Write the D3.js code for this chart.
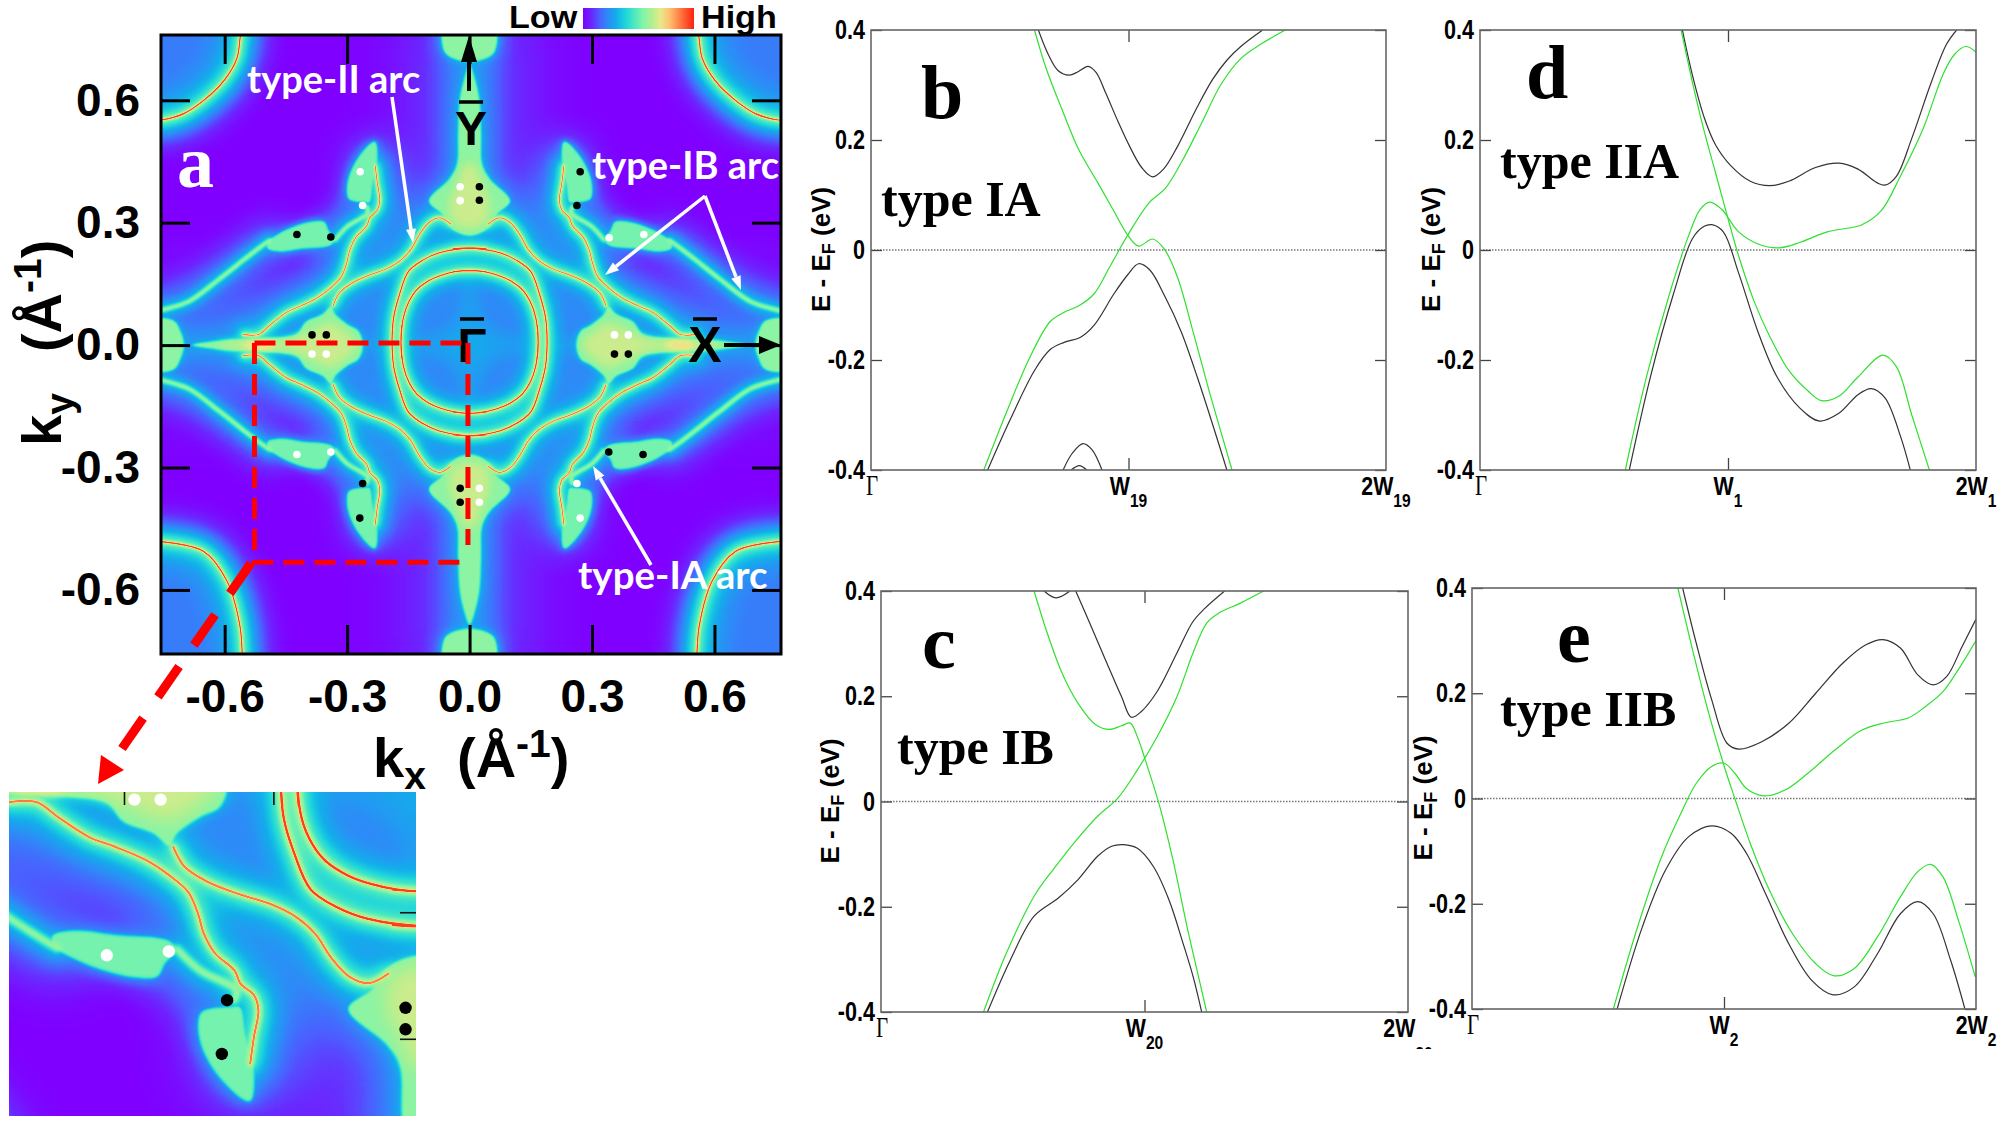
<!DOCTYPE html>
<html lang="en">
<head>
<meta charset="UTF-8">
<title>Weyl arcs and band structures</title>
<script src="https://cdn.jsdelivr.net/npm/d3@7"></script>
<style>
    body { margin: 0; background: #fff; }
    svg { display: block; }
    text { font-family: "Liberation Sans", Arial, sans-serif; font-weight: bold; }
    .serif { font-family: "Liberation Serif", serif; }
</style>
</head>
<body>
<div id="chart"></div>
<script>
// ---- panel a values, momentum in 1/angstrom ----
const kTicks = [-0.6, -0.3, 0.0, 0.3, 0.6]
const insetTicks = [-0.4, -0.2]

// surface arcs, one quadrant (|kx|, |ky|), mirrored when drawn
const ringOuter = [[.188,-.04],[.19,0],[.186,.06],[.172,.115],[.15,.172],[.115,.2],[.075,.218],[0,.23],[-.04,.228]]
const ringInner = [[.166,-.04],[.168,0],[.162,.06],[.148,.1],[.13,.127],[.1,.15],[.07,.163],[.035,.172],[0,.175],[-.04,.172]]
const arcIB = [[.554,.026],[.517,.026],[.489,.049],[.447,.081],[.411,.097],[.370,.118],[.339,.142],[.314,.168],[.301,.202],[.293,.234],[.278,.265],[.252,.292],[.244,.313],[.226,.331],[.220,.355],[.226,.397],[.231,.439]]
const arcII = [[.334,.097],[.319,.128],[.288,.152],[.247,.171],[.206,.186],[.170,.207],[.144,.234],[.123,.271],[.098,.302],[.072,.312],[.046,.297]]
const arcIA = [[.78,.08],[.754,.086],[.688,.107],[.613,.162],[.551,.211],[.525,.231],[.489,.257]]
const arcIAinner = [[.329,.258],[.298,.292],[.262,.313],[.249,.323],[.252,.339]]
const cornerTop = [[.555,.78],[.561,.76],[.570,.703],[.601,.649],[.651,.600],[.701,.567],[.754,.552],[.79,.55]]
const cornerBottom = [[.79,.48],[.754,.482],[.651,.506],[.595,.577],[.563,.686],[.557,.757],[.556,.79]]

const lobeH = [[.496,.236],[.463,.229],[.411,.236],[.339,.245],[.329,.260],[.345,.281],[.355,.302],[.386,.303],[.427,.292],[.468,.273],[.496,.252]]
const lobeV = [[.257,.349],[.296,.357],[.301,.376],[.296,.413],[.273,.460],[.236,.499],[.229,.497],[.226,.444],[.237,.392],[.244,.349]]
const lobeY = [[0,.685],[.012,.655],[.024,.60],[.028,.52],[.031,.441],[.049,.408],[.10,.353],[.068,.321],[.049,.288],[0,.268]]
const lobeYcore = [[0,.285],[.04,.30],[.05,.345],[.03,.40],[.015,.44],[0,.45]]
const capY = [[0,.695],[.045,.705],[.062,.72],[.062,.79],[0,.79]]
const lobeX = [[.262,0],[.272,.034],[.298,.049],[.329,.076],[.339,.097],[.360,.076],[.401,.057],[.422,.028],[.47,.018],[.60,.012],[.68,0]]
const lobeXcore = [[.275,0],[.30,.03],[.34,.055],[.40,.03],[.45,.012],[.55,.012],[.62,0]]
const capX = [[.70,0],[.707,.03],[.725,.06],[.79,.06],[.79,0]]
const hotX = [[.49,0],[.54,0]]
const innerBlue = [[0,.31],[.07,.31],[.12,.27],[.17,.21],[.25,.17],[.32,.12],[.4,.1],[.5,.03],[.5,0],[0,0]]
const axisX = [[0,0],[.8,0]]
const axisY = [[0,0],[0,.8]]
const discTop = cornerTop.concat([[.8,.8]])
const discBottom = cornerBottom.concat([[.8,.8]])

const blackPoints = [[-.423,.271],[-.340,.265],[.271,.425],[.263,.342],[.024,.388],[.024,.355],[-.386,.025],[-.351,.025],[.355,-.022],[.389,-.022],[-.023,-.351],[-.023,-.385],[.341,-.262],[.425,-.268],[-.262,-.339],[-.269,-.424]]
const whitePoints = [[-.268,.425],[-.262,.342],[-.023,.388],[-.023,.354],[.342,.263],[.427,.271],[.355,.025],[.389,.025],[-.386,-.022],[-.351,-.022],[.024,-.351],[.024,-.385],[-.423,-.268],[-.340,-.262],[.263,-.339],[.271,-.424]]

// intensity colour scale of the map
const stopValues = [0, .08, .15, .22, .30, .38, .46, .54, .62, .70, .78, .88, 1]
const stopColors = ["#7f00ff","#6a28ff","#4a60ff","#2f88f8","#12aeea","#1cd4dc","#4ae8c0","#80f5a8","#b0f090","#e8e888","#ffc070","#ff7840","#ff2010"]

// ---- band panels, position along the cut in units of W, energy in eV ----
const energyTicks = [-0.4, -0.2, 0, 0.2, 0.4]

const bBlackUp = [[.650,.400],[.689,.355],[.727,.326],[.769,.318],[.804,.324],[.843,.334],[.874,.323],[.912,.285],[.958,.235],[1.005,.188],[1.051,.150],[1.094,.133],[1.136,.147],[1.190,.188],[1.267,.260],[1.328,.311],[1.382,.345],[1.436,.370],[1.521,.400]]
const bGreenA = [[.635,.400],[.681,.329],[.743,.254],[.804,.185],[.881,.122],[.943,.071],[.997,.027],[1.039,.007],[1.094,.020],[1.140,.001],[1.190,-.049],[1.251,-.149],[1.313,-.256],[1.402,-.400]]
const bGreenB = [[.438,-.400],[.527,-.294],[.619,-.193],[.696,-.130],[.743,-.115],[.812,-.100],[.866,-.080],[.928,-.030],[.997,.027],[1.082,.087],[1.143,.112],[1.205,.159],[1.282,.229],[1.359,.301],[1.436,.348],[1.513,.374],[1.609,.400]]
const bBlackLow = [[.453,-.400],[.542,-.307],[.635,-.219],[.696,-.181],[.750,-.168],[.812,-.159],[.866,-.137],[.943,-.080],[.997,-.045],[1.039,-.025],[1.082,-.036],[1.143,-.086],[1.205,-.149],[1.267,-.231],[1.328,-.319],[1.382,-.400]]
const bDomeA = [[.746,-.400],[.781,-.370],[.823,-.352],[.858,-.363],[.897,-.400]]
const bDomeB = [[.777,-.400],[.809,-.392],[.838,-.400]]

const cBlackTop = [[.619,.400],[.664,.387],[.717,.400]]
const cBlackUp = [[.739,.400],[.792,.339],[.852,.269],[.913,.199],[.950,.160],[.988,.171],[1.048,.209],[1.123,.282],[1.184,.342],[1.229,.367],[1.304,.400]]
const cGreenA = [[.581,.400],[.627,.326],[.687,.244],[.747,.187],[.815,.146],[.867,.137],[.913,.144],[.946,.149],[.973,.123],[1.003,.079],[1.056,-.006],[1.108,-.111],[1.161,-.237],[1.199,-.320],[1.236,-.400]]
const cGreenB = [[.389,-.400],[.476,-.288],[.581,-.180],[.657,-.127],[.747,-.070],[.822,-.028],[.898,.006],[.973,.060],[1.048,.123],[1.123,.199],[1.184,.282],[1.236,.339],[1.282,.358],[1.364,.377],[1.452,.400]]
const cBlackLow = [[.404,-.400],[.491,-.301],[.581,-.218],[.672,-.184],[.747,-.149],[.822,-.104],[.875,-.085],[.920,-.082],[.973,-.089],[1.033,-.123],[1.093,-.187],[1.146,-.269],[1.184,-.332],[1.217,-.400]]

const dBlackUp = [[.816,.400],[.857,.317],[.904,.241],[.950,.191],[1.012,.153],[1.090,.125],[1.167,.117],[1.245,.125],[1.353,.150],[1.447,.158],[1.524,.147],[1.602,.122],[1.633,.118],[1.679,.134],[1.741,.203],[1.819,.304],[1.881,.374],[1.922,.400]]
const dGreenA = [[.811,.400],[.857,.304],[.904,.216],[.950,.140],[.997,.062],[1.043,-.011],[1.105,-.093],[1.167,-.156],[1.245,-.219],[1.322,-.256],[1.377,-.274],[1.447,-.266],[1.524,-.231],[1.625,-.191],[1.679,-.212],[1.741,-.300],[1.812,-.400]]
const dGreenB = [[.586,-.400],[.671,-.231],[.764,-.080],[.842,.027],[.888,.074],[.927,.087],[.974,.074],[1.043,.033],[1.121,.011],[1.206,.004],[1.291,.014],[1.400,.033],[1.540,.046],[1.617,.071],[1.695,.134],[1.788,.222],[1.865,.317],[1.912,.355],[1.958,.370],[2.0,.360]]
const dBlackLow = [[.602,-.400],[.687,-.231],[.780,-.080],[.857,.021],[.904,.043],[.935,.046],[.981,.033],[1.043,-.042],[1.121,-.149],[1.198,-.231],[1.291,-.288],[1.369,-.311],[1.447,-.297],[1.524,-.263],[1.578,-.252],[1.633,-.269],[1.695,-.338],[1.735,-.400]]

const eBlackUp = [[.836,.400],[.890,.295],[.951,.188],[1.012,.105],[1.058,.094],[1.150,.108],[1.257,.143],[1.364,.200],[1.471,.257],[1.563,.292],[1.631,.302],[1.700,.286],[1.769,.235],[1.830,.216],[1.884,.232],[1.945,.289],[2.0,.341]]
const eGreenA = [[.817,.400],[.875,.283],[.936,.168],[.997,.067],[1.043,0],[1.104,-.085],[1.180,-.174],[1.272,-.257],[1.364,-.314],[1.437,-.337],[1.517,-.323],[1.609,-.263],[1.700,-.187],[1.769,-.139],[1.820,-.125],[1.869,-.149],[1.930,-.231],[1.997,-.339]]
const eGreenB = [[.561,-.400],[.661,-.238],[.752,-.111],[.829,-.028],[.890,.029],[.951,.061],[1.000,.067],[1.043,.048],[1.089,.019],[1.157,.005],[1.242,.016],[1.333,.048],[1.440,.092],[1.547,.130],[1.639,.144],[1.731,.153],[1.800,.175],[1.869,.203],[1.930,.245],[2.0,.300]]
const eBlackLow = [[.576,-.400],[.676,-.244],[.768,-.136],[.859,-.073],[.951,-.052],[1.028,-.066],[1.089,-.104],[1.165,-.181],[1.257,-.276],[1.349,-.346],[1.433,-.373],[1.517,-.358],[1.609,-.295],[1.700,-.219],[1.769,-.196],[1.830,-.219],[1.899,-.307],[1.956,-.400]]

const svg = d3.select("#chart").append("svg")
    .attr("width", 2001)
    .attr("height", 1126)
svg.append("rect").attr("width", 2001).attr("height", 1126).attr("fill", "#fff")
const defs = svg.append("defs")

// makes tick labels and titles a bit narrower, the figure uses a condensed bold
function squeeze(sel, f) {
    sel.each(function () {
        const w = this.getComputedTextLength()
        this.setAttribute("textLength", w * f)
        this.setAttribute("lengthAdjust", "spacingAndGlyphs")
    })
}

// ---- the map: a grey intensity picture first, coloured through the scale at the end ----
const colorOf = d3.scaleLinear().domain(stopValues).range(stopColors).clamp(true)

// closes a half outline over the axis it starts and ends on
const overY = pts => pts.concat(pts.slice(1, -1).reverse().map(d => [-d[0], d[1]]))
const overX = pts => pts.concat(pts.slice(1, -1).reverse().map(d => [d[0], -d[1]]))

function renderField(w, h, kx, ky, s) {
    const pad = Math.round(80 * s)
    const cv = document.createElement("canvas")
    cv.width = w + 2 * pad
    cv.height = h + 2 * pad
    const ctx = cv.getContext("2d", {willReadFrequently: true})
    const x = kx.copy().range(kx.range().map(d => d + pad))
    const y = ky.copy().range(ky.range().map(d => d + pad))
    const grey = v => { const c = Math.round(v * 255); return `rgb(${c},${c},${c})` }
    ctx.fillStyle = "#000"
    ctx.fillRect(0, 0, cv.width, cv.height)
    ctx.globalCompositeOperation = "lighten"

    const mirrors = [[1, 1], [-1, 1], [1, -1], [-1, -1]]
    function trace(list, flips, shift, curve) {
        ctx.beginPath()
        for (const [sx, sy] of flips) {
            for (const pts of list) {
                d3.line()
                    .x(d => x(sx * d[0]))
                    .y(d => y(sy * d[1] + shift))
                    .curve(curve)
                    .context(ctx)(pts)
            }
        }
    }
    function stroke(list, level, width, blur, flips = mirrors, shift = 0) {
        trace(list, flips, shift, d3.curveCatmullRom.alpha(0.5))
        ctx.filter = `blur(${blur * s}px)`
        ctx.strokeStyle = grey(level)
        ctx.lineWidth = width * s
        ctx.lineCap = "round"
        ctx.stroke()
    }
    function fill(list, level, blur, flips = mirrors) {
        trace(list, flips, 0, d3.curveCatmullRomClosed.alpha(0.5))
        ctx.filter = `blur(${blur * s}px)`
        ctx.fillStyle = grey(level)
        ctx.fill()
    }

    const topOnly = [[1, 1], [-1, 1]]
    const bottomOnly = [[1, -1], [-1, -1]]
    const rightLeft = [[1, 1], [-1, 1]]
    const upDown = [[1, 1], [1, -1]]
    const yShapes = [overY(lobeY), overY(capY)]
    const xShapes = [overX(lobeX), overX(capX)]

    // background glow
    stroke([axisX, axisY], .2, 80, 40)
    stroke([axisX, axisY], .3, 30, 15)
    fill([innerBlue], .22, 14)
    fill([discTop], .2, 8, topOnly)
    fill([discBottom], .2, 8, bottomOnly)

    // lobes around the Weyl points; shapes closed over an axis are flipped only across the other one
    fill([lobeH, lobeV], .24, 10)
    fill([lobeH, lobeV], .34, 4)
    fill(yShapes, .26, 12, upDown)
    fill(xShapes, .26, 12, rightLeft)
    fill(yShapes, .36, 5, upDown)
    fill(xShapes, .36, 5, rightLeft)
    fill([lobeH, lobeV], .52, .8)
    fill(yShapes, .56, .8, upDown)
    fill(xShapes, .56, .8, rightLeft)
    fill([overY(lobeYcore)], .66, 5, upDown)
    fill([overX(lobeXcore)], .66, 5, rightLeft)
    stroke([hotX], .76, 8, 4)

    // arcs, wide faint glow down to the thin bright line
    const medium = [arcIB, arcII]
    const weak = [arcIA, arcIAinner]
    stroke(medium, .24, 50, 18)
    stroke(medium, .36, 20, 7)
    stroke(medium, .52, 8, 3.5)
    stroke(medium, .66, 3.5, 1.2)
    stroke(medium, .88, 1.3, .4)

    stroke(weak, .22, 36, 14)
    stroke(weak, .36, 12, 5)
    stroke(weak, .6, 4, 1.5)

    const rings = [ringOuter, ringInner]
    stroke(rings, .24, 44, 16, mirrors, .008)
    stroke(rings, .38, 20, 7, mirrors, .008)
    stroke(rings, .54, 8, 3.5, mirrors, .008)
    stroke(rings, .68, 3.5, 1.2, mirrors, .008)
    stroke(rings, .96, 1.4, .4, mirrors, .008)

    for (const [arc, flips] of [[cornerTop, topOnly], [cornerBottom, bottomOnly]]) {
        stroke([arc], .32, 40, 14, flips)
        stroke([arc], .42, 18, 7, flips)
        stroke([arc], .54, 8, 3.5, flips)
        stroke([arc], .68, 3.5, 1.2, flips)
        stroke([arc], .96, 1.4, .4, flips)
    }
    ctx.filter = "none"
    ctx.globalCompositeOperation = "source-over"

    // grey to colour
    const lut = d3.range(256).map(i => d3.rgb(colorOf(i / 255)))
    const img = ctx.getImageData(pad, pad, w, h)
    for (let i = 0; i < img.data.length; i += 4) {
        const c = lut[img.data[i]]
        img.data[i] = c.r
        img.data[i + 1] = c.g
        img.data[i + 2] = c.b
        img.data[i + 3] = 255
    }
    const out = document.createElement("canvas")
    out.width = w
    out.height = h
    out.getContext("2d").putImageData(img, 0, 0)
    return out.toDataURL()
}

// ---- panel a ----
const aLeft = 161, aRight = 781, aTop = 35, aBottom = 654
const kxScale = d3.scaleLinear().domain([-0.756, 0.763]).range([0, aRight - aLeft])
const kyScale = d3.scaleLinear().domain([0.76, -0.757]).range([0, aBottom - aTop])

const a = svg.append("g").attr("transform", `translate(${aLeft},${aTop})`)
a.append("image")
    .attr("width", aRight - aLeft).attr("height", aBottom - aTop)
    .attr("href", renderField(aRight - aLeft, aBottom - aTop, kxScale, kyScale, 1))

a.append("g").attr("transform", `translate(0,${aBottom - aTop})`)
    .call(d3.axisBottom(kxScale).tickValues(kTicks).tickSizeInner(-29).tickSizeOuter(0).tickPadding(25).tickFormat(d => d.toFixed(1)))
    .call(styleAxisA)
a.append("g")
    .call(d3.axisTop(kxScale).tickValues(kTicks).tickSizeInner(-29).tickSizeOuter(0).tickFormat(""))
    .call(styleAxisA)
a.append("g")
    .call(d3.axisLeft(kyScale).tickValues(kTicks).tickSizeInner(-29).tickSizeOuter(0).tickPadding(21).tickFormat(d => d.toFixed(1)))
    .call(styleAxisA)
a.append("g").attr("transform", `translate(${aRight - aLeft},0)`)
    .call(d3.axisRight(kyScale).tickValues(kTicks).tickSizeInner(-29).tickSizeOuter(0).tickFormat(""))
    .call(styleAxisA)
a.append("rect")
    .attr("width", aRight - aLeft).attr("height", aBottom - aTop)
    .attr("fill", "none").attr("stroke", "#000").attr("stroke-width", 3)

function styleAxisA(g) {
    g.select(".domain").remove()
    g.selectAll("line").attr("stroke", "#000").attr("stroke-width", 3)
    g.selectAll("text").attr("font-family", null).style("font-size", "46px").attr("fill", "#000")
}

a.selectAll("circle.bk").data(blackPoints).enter().append("circle")
    .attr("cx", d => kxScale(d[0])).attr("cy", d => kyScale(d[1])).attr("r", 3.8).attr("fill", "#000")
a.selectAll("circle.wh").data(whitePoints).enter().append("circle")
    .attr("cx", d => kxScale(d[0])).attr("cy", d => kyScale(d[1])).attr("r", 3.8).attr("fill", "#fff")

// legend
const grad = defs.append("linearGradient").attr("id", "legendGrad")
stopValues.forEach((v, i) => grad.append("stop").attr("offset", v).attr("stop-color", stopColors[i]))
svg.append("rect").attr("x", 583).attr("y", 8).attr("width", 111).attr("height", 21).attr("fill", "url(#legendGrad)")
svg.append("text").attr("x", 509).attr("y", 28).style("font-size", "31px").text("Low").call(squeeze, 1.1)
svg.append("text").attr("x", 701).attr("y", 28).style("font-size", "31px").text("High").call(squeeze, 1.1)

function label(x, y, txt, size, color = "#000", cls = null) {
    return svg.append("text").attr("x", x).attr("y", y).attr("fill", color).attr("class", cls)
        .style("font-size", size + "px").text(txt)
}

// arrows with a narrow head
function arrow(x1, y1, x2, y2, color, w, headL, headW) {
    const dx = x2 - x1, dy = y2 - y1, len = Math.hypot(dx, dy)
    const ux = dx / len, uy = dy / len
    const bx = x2 - ux * headL, by = y2 - uy * headL
    svg.append("line").attr("x1", x1).attr("y1", y1).attr("x2", bx).attr("y2", by)
        .attr("stroke", color).attr("stroke-width", w)
    svg.append("polygon").attr("fill", color)
        .attr("points", [[x2, y2], [bx - uy * headW, by + ux * headW], [bx + uy * headW, by - ux * headW]].join(" "))
}
arrow(392, 97, 413, 243, "#fff", 3.5, 14, 5)
arrow(705, 196, 605, 275, "#fff", 3.5, 14, 5)
arrow(705, 196, 741, 290, "#fff", 3.5, 14, 5)
arrow(651, 565, 593, 466, "#fff", 3.5, 14, 5)
arrow(469, 91, 469, 36, "#000", 4, 26, 8)
arrow(724, 345, 781, 345, "#000", 4, 22, 9)

const arcFont = "Lato, 'Open Sans', sans-serif"
label(247, 93, "type-II arc", 38, "#fff").style("font-family", arcFont)
label(592, 179, "type-IB arc", 38, "#fff").style("font-family", arcFont)
label(578, 589, "type-IA arc", 38.5, "#fff").style("font-family", arcFont)
label(177, 187, "a", 74, "#fff", "serif")

// high symmetry points
label(471, 145, "Y", 48).attr("text-anchor", "middle")
label(705, 362, "X", 50).attr("text-anchor", "middle")
label(472, 362, "\u0393", 48).attr("text-anchor", "middle")
for (const [x, y] of [[471, 102], [472, 319], [705, 319]]) {
    svg.append("line").attr("x1", x - 12).attr("x2", x + 12).attr("y1", y).attr("y2", y)
        .attr("stroke", "#000").attr("stroke-width", 3.5)
}

// axis titles
const kxTitle = svg.append("text").attr("x", 373).attr("y", 777).style("font-size", "56px")
kxTitle.append("tspan").text("k")
kxTitle.append("tspan").attr("dy", 12).style("font-size", "39px").text("x")
kxTitle.append("tspan").attr("dy", -12).text("\u00a0 (\u00c5")
kxTitle.append("tspan").attr("dy", -20).style("font-size", "39px").text("-1")
kxTitle.append("tspan").attr("dy", 20).text(")")
const kyTitle = svg.append("text").attr("transform", "translate(61,446) rotate(-90)").style("font-size", "56px")
kyTitle.append("tspan").text("k")
kyTitle.append("tspan").attr("dy", 12).style("font-size", "39px").text("y")
kyTitle.append("tspan").attr("dy", -12).attr("dx", 10).text("\u00a0 (\u00c5")
kyTitle.append("tspan").attr("dy", -20).style("font-size", "39px").text("-1")
kyTitle.append("tspan").attr("dy", 20).text(")")

// red dashed box, the part that is blown up below
const boxLine = pts => svg.append("path")
    .attr("d", d3.line().x(d => kxScale(d[0]) + aLeft).y(d => kyScale(d[1]) + aTop)(pts))
    .attr("stroke", "#f00").attr("stroke-width", 5).attr("stroke-dasharray", "21,10").attr("fill", "none")
boxLine([[-.527, .005], [-.004, .005]])
boxLine([[-.527, .005], [-.527, -.532], [-.018, -.532]])
boxLine([[-.004, .005], [-.004, -.49]])
svg.append("line").attr("x1", 251).attr("y1", 563).attr("x2", 114).attr("y2", 760)
    .attr("stroke", "#f00").attr("stroke-width", 9).attr("stroke-dasharray", "37,26")
svg.append("polygon").attr("fill", "#f00").attr("points", "98,784 101,755 124,770")

// ---- inset, the lower left quadrant ----
const inLeft = 9, inRight = 416, inTop = 792, inBottom = 1116
const inX = d3.scaleLinear().domain([-.554, -.009]).range([0, inRight - inLeft])
const inY = d3.scaleLinear().domain([-.01, -.522]).range([0, inBottom - inTop])
const inset = svg.append("g").attr("transform", `translate(${inLeft},${inTop})`)
inset.append("image")
    .attr("width", inRight - inLeft).attr("height", inBottom - inTop)
    .attr("href", renderField(inRight - inLeft, inBottom - inTop, inX, inY, 1.8))
inset.append("g")
    .call(d3.axisTop(inX).tickValues(insetTicks).tickSizeInner(-13).tickSizeOuter(0).tickFormat(""))
    .call(g => g.select(".domain").remove())
    .call(g => g.selectAll("line").attr("stroke", "#111").attr("stroke-width", 1.6))
inset.append("g").attr("transform", `translate(${inRight - inLeft},0)`)
    .call(d3.axisRight(inY).tickValues(insetTicks).tickSizeInner(-16).tickSizeOuter(0).tickFormat(""))
    .call(g => g.select(".domain").remove())
    .call(g => g.selectAll("line").attr("stroke", "#111").attr("stroke-width", 1.6))
const inRange = d => d[0] > -.554 && d[0] < -.009 && d[1] < -.01 && d[1] > -.522
inset.selectAll("circle.bk").data(blackPoints.filter(inRange)).enter().append("circle")
    .attr("cx", d => inX(d[0])).attr("cy", d => inY(d[1])).attr("r", 6.2).attr("fill", "#000")
inset.selectAll("circle.wh").data(whitePoints.filter(inRange)).enter().append("circle")
    .attr("cx", d => inX(d[0])).attr("cy", d => inY(d[1])).attr("r", 6.2).attr("fill", "#fff")

// ---- band structure panels ----
const panels = [
    {left: 871, right: 1386, top: 30, bottom: 470, sub: "19", black: [bBlackUp, bBlackLow, bDomeA, bDomeB], green: [bGreenA, bGreenB],
     letter: "b", lx: 921, ly: 118, type: "type IA", tx: 881, ty: 216, titleX: 823},
    {left: 881, right: 1408, top: 591, bottom: 1012, sub: "20", black: [cBlackTop, cBlackUp, cBlackLow], green: [cGreenA, cGreenB],
     letter: "c", lx: 922, ly: 668, type: "type IB", tx: 897, ty: 764, titleX: 832, cutLast: true},
    {left: 1480, right: 1976, top: 30, bottom: 470, sub: "1", black: [dBlackUp, dBlackLow], green: [dGreenA, dGreenB],
     letter: "d", lx: 1526, ly: 98, type: "type IIA", tx: 1500, ty: 178, titleX: 1433},
    {left: 1472, right: 1976, top: 588, bottom: 1009, sub: "2", black: [eBlackUp, eBlackLow], green: [eGreenA, eGreenB],
     letter: "e", lx: 1557, ly: 662, type: "type IIB", tx: 1500, ty: 726, titleX: 1425}
]

panels.forEach((p, idx) => {
    const w = p.right - p.left, h = p.bottom - p.top
    const x = d3.scaleLinear().domain([0, 2]).range([0, w])
    const y = d3.scaleLinear().domain([-0.4, 0.4]).range([h, 0])
    const g = svg.append("g").attr("transform", `translate(${p.left},${p.top})`)

    defs.append("clipPath").attr("id", "frame" + idx)
        .append("rect").attr("width", w).attr("height", h)

    g.append("line").attr("x2", w).attr("y1", y(0)).attr("y2", y(0))
        .attr("stroke", "#777").attr("stroke-width", 1.3).attr("stroke-dasharray", "1.5,1.5")

    const line = d3.line().x(d => x(d[0])).y(d => y(d[1])).curve(d3.curveCatmullRom.alpha(0.5))
    const bands = g.append("g").attr("clip-path", `url(#frame${idx})`).attr("fill", "none").attr("stroke-width", 1.2)
    bands.selectAll("path.blk").data(p.black).enter().append("path").attr("d", line).attr("stroke", "#333")
    bands.selectAll("path.grn").data(p.green).enter().append("path").attr("d", line).attr("stroke", "#2fe02f")

    const tidy = ax => ax
        .call(s => s.select(".domain").remove())
        .call(s => s.selectAll("line").attr("stroke", "#444").attr("stroke-width", 1.3))

    g.append("g")
        .call(d3.axisLeft(y).tickValues(energyTicks).tickSizeInner(-11).tickSizeOuter(0).tickPadding(6)
            .tickFormat(d => d === 0 ? "0" : d.toFixed(1)))
        .call(tidy)
        .call(s => s.selectAll("text").attr("font-family", null).style("font-size", "27px").attr("fill", "#000").call(squeeze, .8))
    g.append("g").attr("transform", `translate(${w},0)`)
        .call(d3.axisRight(y).tickValues(energyTicks).tickSizeInner(-11).tickSizeOuter(0).tickFormat(""))
        .call(tidy)
    g.append("g")
        .call(d3.axisTop(x).tickValues([1]).tickSizeInner(-12).tickSizeOuter(0).tickFormat(""))
        .call(tidy)
    g.append("g").attr("transform", `translate(0,${h})`)
        .call(d3.axisBottom(x).tickValues([1]).tickSizeInner(-12).tickSizeOuter(0).tickFormat(""))
        .call(tidy)
    g.append("rect").attr("width", w).attr("height", h).attr("fill", "none").attr("stroke", "#666").attr("stroke-width", 1.6)

    // x labels
    const xLabel = (k, main, sub, subDy) => {
        const t = g.append("text").attr("x", x(k)).attr("y", h + 25).attr("text-anchor", "middle").style("font-size", "26px")
        t.append("tspan").text(main)
        t.append("tspan").attr("dy", subDy).style("font-size", "19px").text(sub)
        return t.call(squeeze, .82)
    }
    xLabel(1, "W", p.sub, 11.5)
    if (p.cutLast) {
        defs.append("clipPath").attr("id", "cut" + idx).append("rect")
            .attr("x", w - 40).attr("y", h).attr("width", 90).attr("height", 37)
        xLabel(2, "2W", p.sub, 23).attr("clip-path", `url(#cut${idx})`)
    } else {
        xLabel(2, "2W", p.sub, 11.5)
    }
    g.append("text").attr("class", "serif").attr("x", x(0) + 1).attr("y", h + 25).attr("text-anchor", "middle")
        .style("font-size", "30px").style("font-weight", "normal").text("\u0393").call(squeeze, .7)

    // y title
    const midY = p.top + h / 2 + 24
    const title = svg.append("text")
        .attr("transform", `translate(${p.titleX + 7},${midY + 38}) rotate(-90)`)
        .style("font-size", "26px")
    title.append("tspan").text("E - E")
    title.append("tspan").attr("dy", 5).style("font-size", "18px").text("F")
    title.append("tspan").attr("dy", -5).text(" (eV)")

    label(p.lx, p.ly, p.letter, 76, "#000", "serif")
    label(p.tx, p.ty, p.type, 50, "#000", "serif")
})
</script>
</body>
</html>
